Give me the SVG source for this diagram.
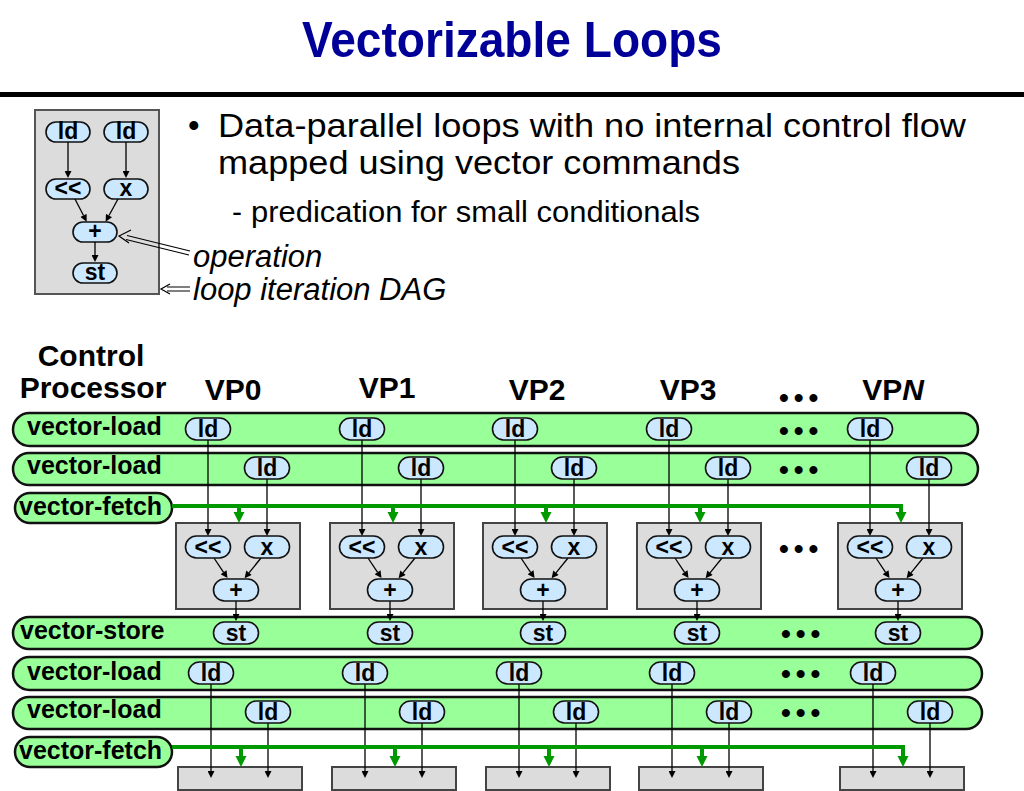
<svg xmlns="http://www.w3.org/2000/svg" width="1024" height="791" viewBox="0 0 1024 791">
<defs>
<style>
text{font-family:"Liberation Sans",Arial,sans-serif;}
.b{font-weight:bold;}
.row{fill:#99ff99;stroke:#111;stroke-width:2.5;}
.op{fill:#cce8ff;stroke:#111;stroke-width:1.6;}
.opt{font-weight:bold;font-size:23px;text-anchor:middle;fill:#000;}
.blk{fill:#dcdcdc;stroke:#444;stroke-width:2;}
.rl{font-weight:bold;font-size:25px;fill:#000;}
.ar{stroke:#000;stroke-width:1.3;fill:none;marker-end:url(#ah);}
.gr{stroke:#009900;stroke-width:4;fill:none;marker-end:url(#gh);}
.dots{font-weight:bold;font-size:28px;letter-spacing:5px;fill:#000;}
.vp{font-weight:bold;font-size:30px;text-anchor:middle;fill:#000;}
</style>
<marker id="ah" viewBox="0 0 10 10" refX="0" refY="5" markerWidth="8" markerHeight="7" markerUnits="userSpaceOnUse" orient="auto"><path d="M0,0 L10,5 L0,10 z" fill="#000"/></marker>
<marker id="gh" viewBox="0 0 10 10" refX="0" refY="5" markerWidth="11" markerHeight="12" markerUnits="userSpaceOnUse" orient="auto"><path d="M0,0 L10,5 L0,10 z" fill="#009900"/></marker>
</defs>
<rect width="1024" height="791" fill="#fff"/>

<g id="title">
<text x="512" y="57" class="b" font-size="50" fill="#000099" text-anchor="middle" textLength="420" lengthAdjust="spacingAndGlyphs">Vectorizable Loops</text>
<rect x="0" y="92" width="1024" height="5" fill="#000"/>
</g>

<g id="bullets">
<text x="188" y="137" font-size="33">•</text>
<text x="218" y="137" font-size="33" textLength="748" lengthAdjust="spacingAndGlyphs">Data-parallel loops with no internal control flow</text>
<text x="218" y="174" font-size="33" textLength="522" lengthAdjust="spacingAndGlyphs">mapped using vector commands</text>
<text x="232" y="222" font-size="30">-</text>
<text x="251" y="222" font-size="30" textLength="449" lengthAdjust="spacingAndGlyphs">predication for small conditionals</text>
<text x="193" y="267" font-size="31" font-style="italic">operation</text>
<text x="193" y="300" font-size="31" font-style="italic">loop iteration DAG</text>
</g>

<g id="dag">
<rect x="35" y="110" width="124" height="184" fill="#dcdcdc" stroke="#555" stroke-width="2"/>
<g id="dag-ld1"><rect x="46" y="122" width="44" height="20" rx="10" class="op"/><text x="68" y="139" class="opt" font-size="21">ld</text></g>
<g id="dag-ld2"><rect x="104" y="122" width="44" height="20" rx="10" class="op"/><text x="126" y="139" class="opt" font-size="21">ld</text></g>
<g id="dag-shl"><rect x="46" y="179" width="44" height="20" rx="10" class="op"/><text x="68" y="196" class="opt" font-size="21">&lt;&lt;</text></g>
<g id="dag-x"><rect x="104" y="179" width="44" height="20" rx="10" class="op"/><text x="126" y="196" class="opt" font-size="21">x</text></g>
<g id="dag-add"><rect x="73" y="222" width="44" height="20" rx="10" class="op"/><text x="95" y="239" class="opt" font-size="21">+</text></g>
<g id="dag-st"><rect x="73" y="263" width="44" height="20" rx="10" class="op"/><text x="95" y="280" class="opt" font-size="21">st</text></g>
</g>

<g id="dag-connectors">
<line x1="68" y1="142" x2="68" y2="171" class="ar"/>
<line x1="126" y1="142" x2="126" y2="171" class="ar"/>
<line x1="75" y1="199" x2="83.5" y2="215.5" class="ar"/>
<line x1="118" y1="199" x2="109" y2="215.5" class="ar"/>
<line x1="95" y1="242" x2="95" y2="255" class="ar"/>
<g id="callouts" stroke="#000" stroke-width="1.2" fill="none">
<path d="M190,251 L127,235.5 M189,255 L126,239.5"/>
<path d="M131,230 L119,236 L129,243"/>
<path d="M190,287 L167,287 M190,291 L167,291"/>
<path d="M170,284 L161,289 L170,294"/>
</g>
</g>

<g id="headers">
<text x="91" y="366" class="b" font-size="30" text-anchor="middle">Control</text>
<text x="93" y="398" class="b" font-size="30" text-anchor="middle">Processor</text>
<text x="233" y="400" class="vp">VP0</text>
<text x="387" y="398" class="vp">VP1</text>
<text x="537" y="400" class="vp">VP2</text>
<text x="688" y="400" class="vp">VP3</text>
<text x="779" y="407" class="dots">•••</text>
<text x="893" y="400" class="vp">VP<tspan font-style="italic">N</tspan></text>
</g>

<g id="rows">
<g id="row1"><rect x="13" y="413" width="965" height="33" rx="16.5" class="row"/><text x="27" y="435" class="rl">vector-load</text><text x="779" y="439.5" class="dots">•••</text></g>
<g id="row2"><rect x="13" y="453" width="965" height="32" rx="16" class="row"/><text x="27" y="474" class="rl">vector-load</text><text x="779" y="478.5" class="dots">•••</text></g>
<g id="row3"><rect x="15" y="493" width="157" height="30" rx="15" class="row"/><text x="19" y="515" class="rl">vector-fetch</text></g>
<g id="row4"><rect x="13" y="617" width="969" height="32" rx="16" class="row"/><text x="20" y="639" class="rl">vector-store</text><text x="781" y="642.5" class="dots">•••</text></g>
<g id="row5"><rect x="13" y="657" width="969" height="33" rx="16.5" class="row"/><text x="27" y="680" class="rl">vector-load</text><text x="781" y="682.5" class="dots">•••</text></g>
<g id="row6"><rect x="13" y="697" width="969" height="32" rx="16" class="row"/><text x="27" y="718" class="rl">vector-load</text><text x="781" y="721.5" class="dots">•••</text></g>
<g id="row7"><rect x="15" y="737" width="157" height="30" rx="15" class="row"/><text x="19" y="759" class="rl">vector-fetch</text></g>
</g>

<g id="blocks">
<rect x="176" y="523" width="124" height="86" class="blk"/>
<rect x="330" y="523" width="124" height="86" class="blk"/>
<rect x="483" y="523" width="124" height="86" class="blk"/>
<rect x="637" y="523" width="124" height="86" class="blk"/>
<rect x="838" y="523" width="124" height="86" class="blk"/>
<text x="779" y="557.5" class="dots">•••</text>
<rect x="178" y="767" width="124" height="23" class="blk"/>
<rect x="332" y="767" width="124" height="23" class="blk"/>
<rect x="486" y="767" width="124" height="23" class="blk"/>
<rect x="639" y="767" width="124" height="23" class="blk"/>
<rect x="840" y="767" width="124" height="23" class="blk"/>
</g>

<g id="connectors">
<line x1="208" y1="440" x2="208" y2="529" class="ar"/>
<line x1="267" y1="479" x2="267" y2="529" class="ar"/>
<line x1="362" y1="440" x2="362" y2="529" class="ar"/>
<line x1="421" y1="479" x2="421" y2="529" class="ar"/>
<line x1="515" y1="440" x2="515" y2="529" class="ar"/>
<line x1="574" y1="479" x2="574" y2="529" class="ar"/>
<line x1="669" y1="440" x2="669" y2="529" class="ar"/>
<line x1="728" y1="479" x2="728" y2="529" class="ar"/>
<line x1="870" y1="440" x2="870" y2="529" class="ar"/>
<line x1="929" y1="479" x2="929" y2="529" class="ar"/>
<line x1="214" y1="558" x2="223.6" y2="572.3" class="ar"/>
<line x1="261" y1="558" x2="249" y2="572.8" class="ar"/>
<line x1="368" y1="558" x2="377.6" y2="572.3" class="ar"/>
<line x1="415" y1="558" x2="403" y2="572.8" class="ar"/>
<line x1="521" y1="558" x2="530.6" y2="572.3" class="ar"/>
<line x1="568" y1="558" x2="556" y2="572.8" class="ar"/>
<line x1="675" y1="558" x2="684.6" y2="572.3" class="ar"/>
<line x1="722" y1="558" x2="710" y2="572.8" class="ar"/>
<line x1="876" y1="558" x2="885.6" y2="572.3" class="ar"/>
<line x1="923" y1="558" x2="911" y2="572.8" class="ar"/>
<line x1="236" y1="601" x2="236" y2="614" class="ar"/>
<line x1="390" y1="601" x2="390" y2="614" class="ar"/>
<line x1="543" y1="601" x2="543" y2="614" class="ar"/>
<line x1="697" y1="601" x2="697" y2="614" class="ar"/>
<line x1="898" y1="601" x2="898" y2="614" class="ar"/>
<line x1="211" y1="684" x2="211" y2="771" class="ar"/>
<line x1="268" y1="723" x2="268" y2="771" class="ar"/>
<line x1="365" y1="684" x2="365" y2="771" class="ar"/>
<line x1="422" y1="723" x2="422" y2="771" class="ar"/>
<line x1="519" y1="684" x2="519" y2="771" class="ar"/>
<line x1="576" y1="723" x2="576" y2="771" class="ar"/>
<line x1="672" y1="684" x2="672" y2="771" class="ar"/>
<line x1="729" y1="723" x2="729" y2="771" class="ar"/>
<line x1="873" y1="684" x2="873" y2="771" class="ar"/>
<line x1="930" y1="723" x2="930" y2="771" class="ar"/>
<path d="M172,506 H901 V512" class="gr"/>
<line x1="239" y1="506" x2="239" y2="512" class="gr"/>
<line x1="393" y1="506" x2="393" y2="512" class="gr"/>
<line x1="546" y1="506" x2="546" y2="512" class="gr"/>
<line x1="700" y1="506" x2="700" y2="512" class="gr"/>
<path d="M172,747 H903 V756" class="gr"/>
<line x1="241" y1="747" x2="241" y2="756" class="gr"/>
<line x1="395" y1="747" x2="395" y2="756" class="gr"/>
<line x1="549" y1="747" x2="549" y2="756" class="gr"/>
<line x1="702" y1="747" x2="702" y2="756" class="gr"/>
</g>

<g id="nodes">
<g id="u-ld1-0"><rect x="185.5" y="418" width="45" height="22" rx="11" class="op"/><text x="208" y="437" class="opt">ld</text></g>
<g id="u-ld1-1"><rect x="339.5" y="418" width="45" height="22" rx="11" class="op"/><text x="362" y="437" class="opt">ld</text></g>
<g id="u-ld1-2"><rect x="492.5" y="418" width="45" height="22" rx="11" class="op"/><text x="515" y="437" class="opt">ld</text></g>
<g id="u-ld1-3"><rect x="646.5" y="418" width="45" height="22" rx="11" class="op"/><text x="669" y="437" class="opt">ld</text></g>
<g id="u-ld1-n"><rect x="847.5" y="418" width="45" height="22" rx="11" class="op"/><text x="870" y="437" class="opt">ld</text></g>

<g id="u-ld2-0"><rect x="244.5" y="457" width="45" height="22" rx="11" class="op"/><text x="267" y="476" class="opt">ld</text></g>
<g id="u-ld2-1"><rect x="398.5" y="457" width="45" height="22" rx="11" class="op"/><text x="421" y="476" class="opt">ld</text></g>
<g id="u-ld2-2"><rect x="551.5" y="457" width="45" height="22" rx="11" class="op"/><text x="574" y="476" class="opt">ld</text></g>
<g id="u-ld2-3"><rect x="705.5" y="457" width="45" height="22" rx="11" class="op"/><text x="728" y="476" class="opt">ld</text></g>
<g id="u-ld2-n"><rect x="906.5" y="457" width="45" height="22" rx="11" class="op"/><text x="929" y="476" class="opt">ld</text></g>

<g id="shl-0"><rect x="185.5" y="536" width="45" height="22" rx="11" class="op"/><text x="208" y="555" class="opt">&lt;&lt;</text></g>
<g id="shl-1"><rect x="339.5" y="536" width="45" height="22" rx="11" class="op"/><text x="362" y="555" class="opt">&lt;&lt;</text></g>
<g id="shl-2"><rect x="492.5" y="536" width="45" height="22" rx="11" class="op"/><text x="515" y="555" class="opt">&lt;&lt;</text></g>
<g id="shl-3"><rect x="646.5" y="536" width="45" height="22" rx="11" class="op"/><text x="669" y="555" class="opt">&lt;&lt;</text></g>
<g id="shl-n"><rect x="847.5" y="536" width="45" height="22" rx="11" class="op"/><text x="870" y="555" class="opt">&lt;&lt;</text></g>

<g id="mul-0"><rect x="244.5" y="536" width="45" height="22" rx="11" class="op"/><text x="267" y="555" class="opt">x</text></g>
<g id="mul-1"><rect x="398.5" y="536" width="45" height="22" rx="11" class="op"/><text x="421" y="555" class="opt">x</text></g>
<g id="mul-2"><rect x="551.5" y="536" width="45" height="22" rx="11" class="op"/><text x="574" y="555" class="opt">x</text></g>
<g id="mul-3"><rect x="705.5" y="536" width="45" height="22" rx="11" class="op"/><text x="728" y="555" class="opt">x</text></g>
<g id="mul-n"><rect x="906.5" y="536" width="45" height="22" rx="11" class="op"/><text x="929" y="555" class="opt">x</text></g>

<g id="add-0"><rect x="213.5" y="579" width="45" height="22" rx="11" class="op"/><text x="236" y="598" class="opt">+</text></g>
<g id="add-1"><rect x="367.5" y="579" width="45" height="22" rx="11" class="op"/><text x="390" y="598" class="opt">+</text></g>
<g id="add-2"><rect x="520.5" y="579" width="45" height="22" rx="11" class="op"/><text x="543" y="598" class="opt">+</text></g>
<g id="add-3"><rect x="674.5" y="579" width="45" height="22" rx="11" class="op"/><text x="697" y="598" class="opt">+</text></g>
<g id="add-n"><rect x="875.5" y="579" width="45" height="22" rx="11" class="op"/><text x="898" y="598" class="opt">+</text></g>

<g id="st-0"><rect x="213.5" y="622" width="45" height="22" rx="11" class="op"/><text x="236" y="641" class="opt">st</text></g>
<g id="st-1"><rect x="367.5" y="622" width="45" height="22" rx="11" class="op"/><text x="390" y="641" class="opt">st</text></g>
<g id="st-2"><rect x="520.5" y="622" width="45" height="22" rx="11" class="op"/><text x="543" y="641" class="opt">st</text></g>
<g id="st-3"><rect x="674.5" y="622" width="45" height="22" rx="11" class="op"/><text x="697" y="641" class="opt">st</text></g>
<g id="st-n"><rect x="875.5" y="622" width="45" height="22" rx="11" class="op"/><text x="898" y="641" class="opt">st</text></g>

<g id="l-ld1-0"><rect x="188.5" y="662" width="45" height="22" rx="11" class="op"/><text x="211" y="681" class="opt">ld</text></g>
<g id="l-ld1-1"><rect x="342.5" y="662" width="45" height="22" rx="11" class="op"/><text x="365" y="681" class="opt">ld</text></g>
<g id="l-ld1-2"><rect x="496.5" y="662" width="45" height="22" rx="11" class="op"/><text x="519" y="681" class="opt">ld</text></g>
<g id="l-ld1-3"><rect x="649.5" y="662" width="45" height="22" rx="11" class="op"/><text x="672" y="681" class="opt">ld</text></g>
<g id="l-ld1-n"><rect x="850.5" y="662" width="45" height="22" rx="11" class="op"/><text x="873" y="681" class="opt">ld</text></g>

<g id="l-ld2-0"><rect x="245.5" y="701" width="45" height="22" rx="11" class="op"/><text x="268" y="720" class="opt">ld</text></g>
<g id="l-ld2-1"><rect x="399.5" y="701" width="45" height="22" rx="11" class="op"/><text x="422" y="720" class="opt">ld</text></g>
<g id="l-ld2-2"><rect x="553.5" y="701" width="45" height="22" rx="11" class="op"/><text x="576" y="720" class="opt">ld</text></g>
<g id="l-ld2-3"><rect x="706.5" y="701" width="45" height="22" rx="11" class="op"/><text x="729" y="720" class="opt">ld</text></g>
<g id="l-ld2-n"><rect x="907.5" y="701" width="45" height="22" rx="11" class="op"/><text x="930" y="720" class="opt">ld</text></g>
</g>
</svg>
